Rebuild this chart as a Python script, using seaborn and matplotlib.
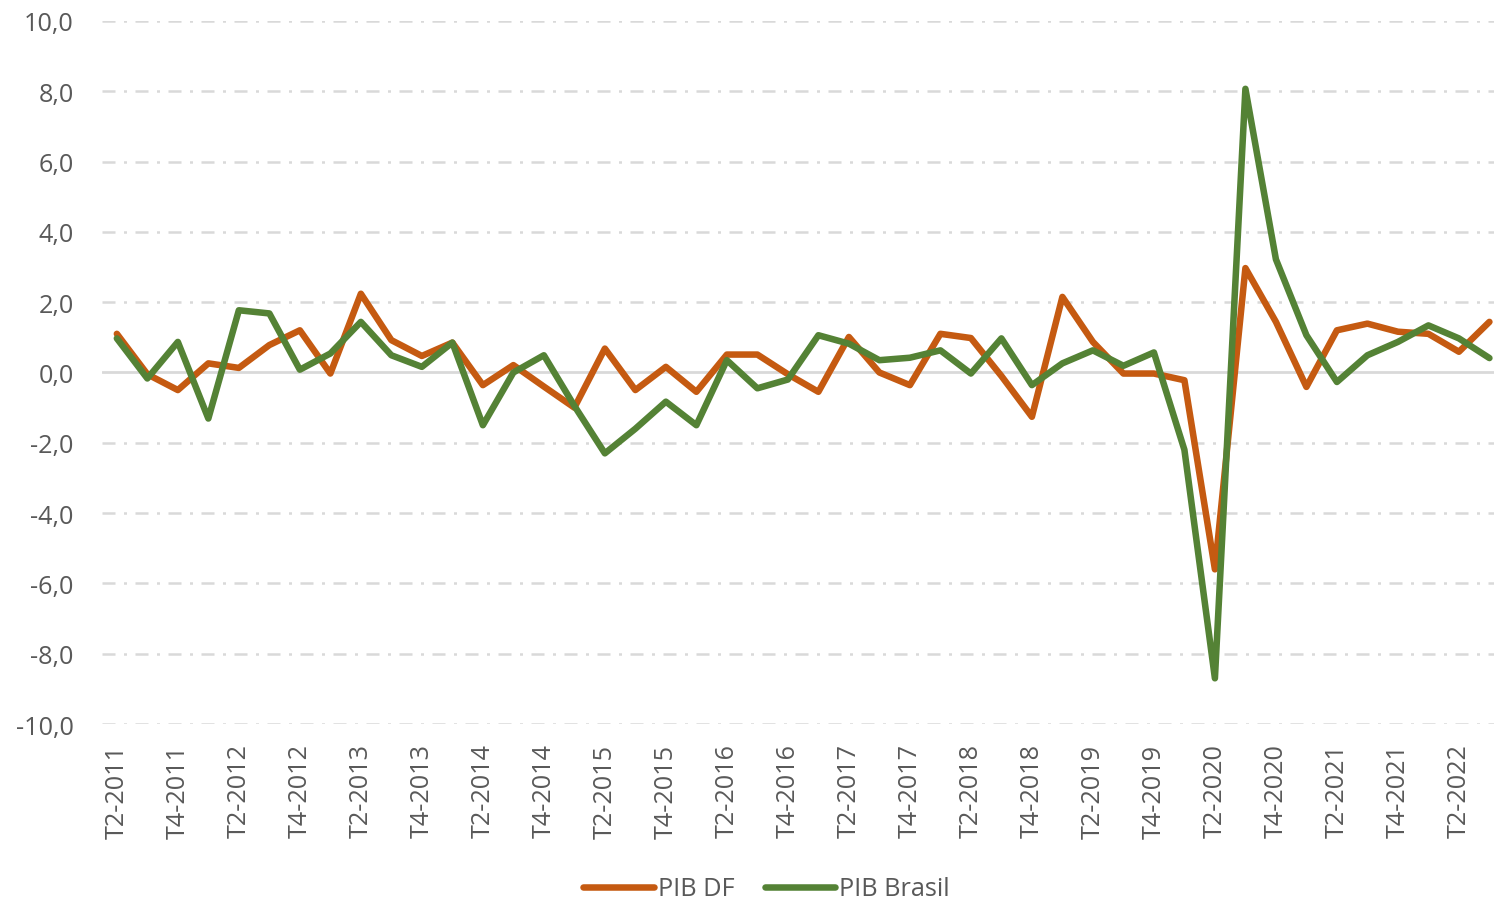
import matplotlib
matplotlib.use("Agg")
import matplotlib.pyplot as plt
from matplotlib.lines import Line2D
import pandas as pd
import seaborn as sns

# --- Data ---
quarters = [f"T{q}-{y}" for y in range(2011, 2023) for q in (1, 2, 3, 4)]
quarters = quarters[1:quarters.index("T3-2022") + 1]  # T2-2011 .. T3-2022

pib_df = [
    1.1, -0.05, -0.5, 0.26, 0.13, 0.78, 1.2, -0.03, 2.24, 0.92,
    0.47, 0.85, -0.36, 0.21, -0.4, -1.0, 0.68, -0.5, 0.16, -0.55,
    0.51, 0.51, -0.05, -0.55, 1.01, 0.0, -0.36, 1.1, 0.98, -0.1,
    -1.26, 2.15, 0.87, -0.03, -0.03, -0.22, -5.6, 2.97, 1.44, -0.41,
    1.2, 1.39, 1.16, 1.1, 0.59, 1.44,
]
pib_brasil = [
    0.97, -0.17, 0.87, -1.31, 1.77, 1.68, 0.08, 0.54, 1.44, 0.49,
    0.16, 0.85, -1.5, 0.0, 0.49, -0.95, -2.3, -1.6, -0.83, -1.5,
    0.35, -0.45, -0.2, 1.06, 0.82, 0.35, 0.42, 0.63, -0.03, 0.97,
    -0.36, 0.26, 0.63, 0.19, 0.57, -2.2, -8.7, 8.07, 3.22, 1.06,
    -0.27, 0.49, 0.87, 1.34, 0.97, 0.41,
]
series_names = ["PIB DF", "PIB Brasil"]
series_colors = ["#C55A11", "#548235"]
y_ticks = [-10, -8, -6, -4, -2, 0, 2, 4, 6, 8, 10]

df = pd.DataFrame({
    "trimestre": quarters * 2,
    "pos": list(range(len(quarters))) * 2,
    "valor": pib_df + pib_brasil,
    "serie": [series_names[0]] * len(quarters) + [series_names[1]] * len(quarters),
})

# --- Style ---
sns.set_style("white")
plt.rcParams["font.family"] = ["Open Sans", "DejaVu Sans"]
TXT = "#595959"
GRID = "#D9D9D9"

fig = plt.figure(figsize=(14.94, 9.04), dpi=100)
ax = fig.add_axes([0.068, 0.198, 0.932, 0.7777])

# grid lines (dash-dot) and solid zero line
for t in y_ticks:
    if t == 0:
        ax.axhline(0, color=GRID, lw=2.0, zorder=1)
    else:
        ax.axhline(t, color=GRID, lw=1.8, ls=(0, (5.2, 3.4, 1.2, 3.4)), zorder=1)

sns.lineplot(
    data=df, x="pos", y="valor", hue="serie", hue_order=series_names,
    palette=series_colors, linewidth=4.7, sort=False, legend=False, ax=ax,
    solid_joinstyle="round", solid_capstyle="round", zorder=3,
)

ax.set_xlim(-0.5, 45.15)
ax.set_ylim(-10, 10)
ax.set_yticks(y_ticks)
ax.set_yticklabels([f"{t:.1f}".replace(".", ",") for t in y_ticks])
ax.set_xticks(range(0, len(quarters), 2))
ax.set_xticklabels(quarters[::2], rotation=90)
ax.tick_params(axis="both", length=0, labelsize=18.2, colors=TXT)
ax.tick_params(axis="y", pad=20)
ax.tick_params(axis="x", pad=14)
ax.set_xlabel("")
ax.set_ylabel("")
for s in ax.spines.values():
    s.set_visible(False)

handles = [
    Line2D([], [], color=c, lw=4.7, solid_capstyle="round") for c in series_colors
]
fig.legend(
    handles, series_names, loc="center", bbox_to_anchor=(0.513, 0.0155),
    ncol=2, frameon=False, fontsize=18.2, labelcolor=TXT,
    handlelength=2.8, handletextpad=0.15, columnspacing=1.2,
)

fig.savefig("out.png", dpi=100)
